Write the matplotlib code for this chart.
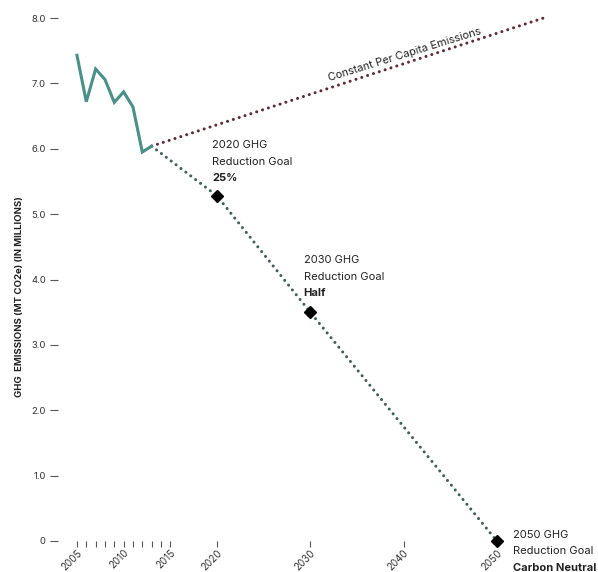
import matplotlib.pyplot as plt

plt.rcParams['font.family'] = ['Inter', 'DejaVu Sans']

# historical emissions (MT CO2e, millions)
hist_years = [2005, 2006, 2007, 2008, 2009, 2010, 2011, 2012, 2013]
hist_values = [7.43, 6.72, 7.22, 7.06, 6.71, 6.87, 6.64, 5.95, 6.04]

# constant per capita projection
const_years = [2013, 2055]
const_values = [6.04, 8.0]

# reduction goal path
goal_years = [2013, 2020, 2030, 2050]
goal_values = [6.04, 5.28, 3.50, 0.0]
marker_years = [2020, 2030, 2050]
marker_values = [5.28, 3.50, 0.0]

x_ticks = list(range(2005, 2016)) + [2020, 2030, 2040, 2050]
x_labels = ['2005', '2010', '2015', '2020', '2030', '2040', '2050']
y_ticks = [0, 1, 2, 3, 4, 5, 6, 7, 8]
y_labels = ['0', '1.0', '2.0', '3.0', '4.0', '5.0', '6.0', '7.0', '8.0']

fig = plt.figure(figsize=(5.98, 5.72), dpi=100, facecolor='white')
ax = fig.add_axes([0.0975, 0.0542, 0.827, 0.9143])

dots = (0, (0.01, 2.0))
ax.plot(hist_years, hist_values, color='#4a8f88', linewidth=2.2,
        solid_joinstyle='miter', clip_on=False, zorder=3)
ax.plot(const_years, const_values, color='#5b2c36', linewidth=2.2,
        linestyle=dots, dash_capstyle='round', clip_on=False)
ax.plot(goal_years, goal_values, color='#3f5f58', linewidth=2.2,
        linestyle=dots, dash_capstyle='round', clip_on=False)
ax.plot(marker_years, marker_values, linestyle='none', marker='D',
        markersize=6.5, color='black', clip_on=False, zorder=4)

ax.set_xlim(2003, 2056)
ax.set_ylim(0, 8)

for s in ax.spines.values():
    s.set_visible(False)

ax.set_xticks(x_ticks)
ax.set_xticklabels([str(y) if str(y) in x_labels else '' for y in x_ticks],
                   rotation=45, ha='right', va='top', rotation_mode='anchor',
                   fontsize=7.0, color='#333333')
ax.tick_params(axis='x', direction='out', length=4, width=0.8,
               color='#555555', pad=0.8)
ax.set_yticks(y_ticks)
ax.set_yticklabels(y_labels, fontsize=6.8, color='#333333')
ax.tick_params(axis='y', direction='out', length=6, width=0.8,
               color='#555555', pad=3)

fig.text(0.032, 0.481, 'GHG  EMISSIONS (MT CO2e) (IN MILLIONS)', rotation=90,
         ha='center', va='center', fontsize=6.9, fontweight='bold',
         color='#222222')

ax.text(2040.3, 7.36, 'Constant Per Capita Emissions', rotation=17.2,
        fontsize=7.9, color='#222222', ha='center', va='bottom',
        rotation_mode='anchor')

notes = [(2019.5, 6.13, '2020 GHG', 'Reduction Goal', '25%'),
         (2029.3, 4.37, '2030 GHG', 'Reduction Goal', 'Half'),
         (2051.7, 0.17, '2050 GHG', 'Reduction Goal', 'Carbon Neutral')]
step = 0.252
for x, y, l1, l2, l3 in notes:
    ax.text(x, y, l1, fontsize=8.0, color='#222222', ha='left', va='top')
    ax.text(x, y - step, l2, fontsize=8.0, color='#222222', ha='left', va='top')
    ax.text(x, y - 2 * step, l3, fontsize=8.0, fontweight='bold',
            color='#222222', ha='left', va='top')

fig.savefig('out.png', dpi=100, facecolor='white')
